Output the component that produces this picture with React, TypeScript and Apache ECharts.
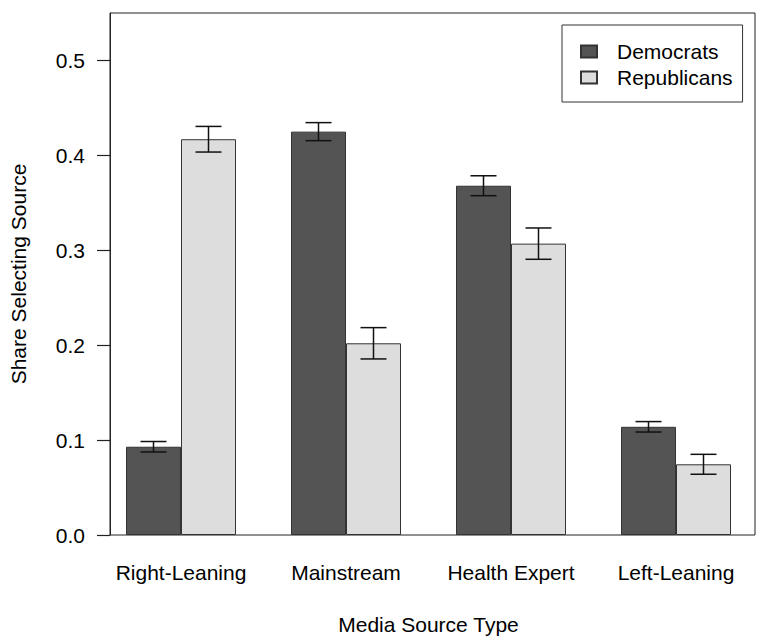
import React, { useEffect, useRef } from "react";
import * as echarts from "echarts";

const categories = ["Right-Leaning", "Mainstream", "Health Expert", "Left-Leaning"];
const democrats = [0.093, 0.425, 0.368, 0.114];
const republicans = [0.417, 0.202, 0.307, 0.0745];
const democratsErr = [0.0055, 0.0095, 0.0105, 0.0055];
const republicansErr = [0.0135, 0.0165, 0.0165, 0.0105];
const yTicks = [0, 0.1, 0.2, 0.3, 0.4, 0.5];

const FONT = "Liberation Sans, Arial, Helvetica, sans-serif";
const BAR_W = 55;

function errSeries(name: string, vals: number[], errs: number[], side: number) {
  return {
    type: "custom",
    name,
    xAxisIndex: 0,
    yAxisIndex: 0,
    z: 5,
    silent: true,
    data: vals.map((v, i) => [i, v, errs[i]]),
    encode: { x: 0, y: 1 },
    renderItem: (params: any, api: any) => {
      const idx = api.value(0);
      const v = api.value(1);
      const e = api.value(2);
      const top = api.coord([idx, v + e]);
      const bot = api.coord([idx, v - e]);
      const x = top[0] + (side * BAR_W) / 2;
      const cap = 13;
      const st = { stroke: "#111", lineWidth: 1.5 };
      return {
        type: "group",
        children: [
          { type: "line", shape: { x1: x, y1: top[1], x2: x, y2: bot[1] }, style: st },
          { type: "line", shape: { x1: x - cap, y1: top[1], x2: x + cap, y2: top[1] }, style: st },
          { type: "line", shape: { x1: x - cap, y1: bot[1], x2: x + cap, y2: bot[1] }, style: st },
        ],
      };
    },
  };
}

export default function App() {
  const ref = useRef<HTMLDivElement>(null);
  useEffect(() => {
    if (!ref.current) return;
    const chart = echarts.init(ref.current, null, { renderer: "svg" });
    chart.setOption({
      animation: false,
      backgroundColor: "#fff",
      textStyle: { fontFamily: FONT },
      legend: {
        data: ["Democrats", "Republicans"],
        orient: "vertical",
        left: 562,
        top: 25,
        padding: [16, 10, 14, 18],
        itemWidth: 16,
        itemHeight: 12,
        itemGap: 5,
        borderColor: "#333",
        borderWidth: 1,
        icon: "rect",
        textStyle: { fontSize: 21, color: "#000", fontFamily: FONT, padding: [0, 0, 0, 15] },
      },
      grid: [
        { left: 98.5, right: 9.5, top: 13, bottom: 105 },
        { left: 102, right: 13, top: 13, bottom: 105, show: true, borderColor: "#222", borderWidth: 1, backgroundColor: "transparent" },
      ],
      xAxis: [
        {
          type: "category",
          gridIndex: 0,
          data: categories,
          axisLine: { show: false },
          axisTick: { show: false },
          axisLabel: { fontSize: 21, color: "#000", margin: 27, fontFamily: FONT, interval: 0 },
          name: "Media Source Type",
          nameLocation: "middle",
          nameGap: 79,
          nameTextStyle: { fontSize: 21, color: "#000", fontFamily: FONT },
        },
        { type: "value", gridIndex: 1, show: false, min: 0, max: 1 },
      ],
      yAxis: [
        { type: "value", gridIndex: 0, min: 0, max: 0.55, show: false, splitLine: { show: false } },
        {
          type: "value",
          gridIndex: 1,
          min: 0,
          max: 0.55,
          interval: 0.1,
          axisLine: { show: true, lineStyle: { color: "#222", width: 1 } },
          axisTick: { show: true, length: 13, lineStyle: { color: "#222", width: 1.2 }, customValues: yTicks },
          axisLabel: {
            fontSize: 21,
            color: "#000",
            margin: 25,
            fontFamily: FONT,
            customValues: yTicks,
            formatter: (v: number) => v.toFixed(1),
          },
          splitLine: { show: false },
          name: "Share Selecting Source",
          nameLocation: "middle",
          nameGap: 81,
          nameTextStyle: { fontSize: 21, color: "#000", fontFamily: FONT },
        },
      ],
      series: [
        {
          type: "bar",
          name: "Democrats",
          xAxisIndex: 0,
          yAxisIndex: 0,
          data: democrats,
          barWidth: BAR_W,
          barGap: "0%",
          itemStyle: { color: "#545454", borderColor: "#333", borderWidth: 1 },
        },
        {
          type: "bar",
          name: "Republicans",
          xAxisIndex: 0,
          yAxisIndex: 0,
          data: republicans,
          barWidth: BAR_W,
          barGap: "0%",
          itemStyle: { color: "#dddddd", borderColor: "#333", borderWidth: 1 },
        },
        errSeries("demErr", democrats, democratsErr, -1),
        errSeries("repErr", republicans, republicansErr, 1),
      ],
    });
    return () => chart.dispose();
  }, []);
  return <div ref={ref} style={{ width: 768, height: 640, position: "absolute", left: 0, top: 0 }} />;
}
